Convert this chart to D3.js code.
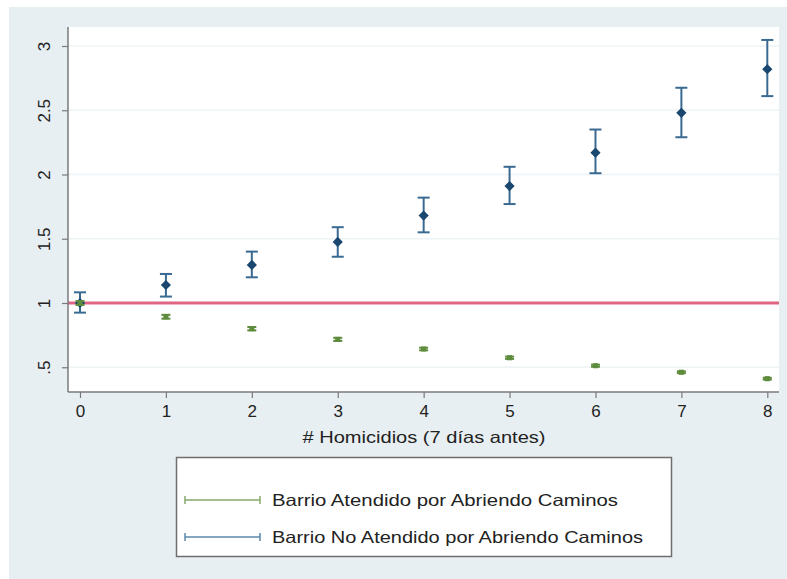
<!DOCTYPE html>
<html>
<head>
<meta charset="utf-8">
<script src="https://cdn.jsdelivr.net/npm/d3@7"></script>
<style>
  html, body { margin: 0; padding: 0; background: #ffffff; }
  svg { display: block; font-family: "Liberation Sans", Arial, Helvetica, sans-serif; }
</style>
</head>
<body>
<svg id="chart" width="787" height="579"></svg>
<script>
// Homicides in the previous 7 days (x) vs. predicted ratio with 95% CI
const homicides = [0, 1, 2, 3, 4, 5, 6, 7, 8];

// Barrio Atendido por Abriendo Caminos
const atendidoPoint = [1.00, 0.893, 0.800, 0.717, 0.642, 0.574, 0.512, 0.461, 0.411];
const atendidoLow   = [0.985, 0.878, 0.787, 0.705, 0.632, 0.565, 0.504, 0.454, 0.404];
const atendidoHigh  = [1.015, 0.908, 0.813, 0.729, 0.652, 0.583, 0.520, 0.468, 0.418];

// Barrio No Atendido por Abriendo Caminos
const noAtendidoPoint = [1.00, 1.14, 1.296, 1.475, 1.68, 1.91, 2.17, 2.48, 2.82];
const noAtendidoLow   = [0.925, 1.05, 1.20, 1.36, 1.55, 1.77, 2.01, 2.29, 2.61];
const noAtendidoHigh  = [1.083, 1.226, 1.40, 1.59, 1.82, 2.06, 2.35, 2.675, 3.047];

const yTicks = [0.5, 1, 1.5, 2, 2.5, 3];
const yTickLabels = [".5", "1", "1.5", "2", "2.5", "3"];
const referenceLine = 1;

const xTitle = "# Homicidios (7 días antes)";
const legendLabels = ["Barrio Atendido por Abriendo Caminos", "Barrio No Atendido por Abriendo Caminos"];

const colors = {
  bg: "#e8eff2",
  grid: "#eef3f5",
  axis: "#7a7a7a",
  ref: "#e06483",
  green: "#5d8c3c",
  greenLegend: "#86a86b",
  navy: "#1a476f",
  navyCap: "#3a6a92",
  navyLegend: "#5b88ad"
};

const svg = d3.select("#chart");

// outer panel
svg.append("rect").attr("x", 9).attr("y", 7).attr("width", 778).attr("height", 572).attr("fill", colors.bg);

const plot = { left: 68, right: 779, top: 27, bottom: 392 };

svg.append("rect")
  .attr("x", plot.left).attr("y", plot.top)
  .attr("width", plot.right - plot.left).attr("height", plot.bottom - plot.top)
  .attr("fill", "#ffffff");

const x = d3.scaleLinear().domain([0, 8]).range([80, 767.3]);
const y = d3.scaleLinear().domain([1, 3]).range([303, 46]);

// horizontal gridlines
svg.append("g").selectAll("line").data(yTicks).join("line")
  .attr("x1", plot.left).attr("x2", plot.right)
  .attr("y1", d => y(d)).attr("y2", d => y(d))
  .attr("stroke", colors.grid).attr("stroke-width", 1.5);

// reference line at 1
svg.append("line")
  .attr("x1", plot.left).attr("x2", plot.right)
  .attr("y1", y(referenceLine)).attr("y2", y(referenceLine))
  .attr("stroke", colors.ref).attr("stroke-width", 3);

// y axis, labels rotated to read upward
const yAxis = d3.axisLeft(y).tickValues(yTicks)
  .tickFormat((d, i) => yTickLabels[i]).tickSize(6).tickPadding(6);
const gy = svg.append("g").attr("transform", `translate(${plot.left},0)`).call(yAxis);
gy.select(".domain").remove();
gy.append("line").attr("x1", 0).attr("x2", 0).attr("y1", plot.top).attr("y2", plot.bottom)
  .attr("stroke", colors.axis).attr("stroke-width", 1.5);
gy.selectAll(".tick line").attr("stroke", colors.axis).attr("stroke-width", 1.2);
gy.selectAll(".tick text")
  .attr("fill", "#222").attr("font-size", 17)
  .attr("text-anchor", "middle")
  .attr("transform", "rotate(-90)")
  .attr("x", 0).attr("y", -18).attr("dy", "0");

// x axis
const xAxis = d3.axisBottom(x).tickValues(homicides).tickFormat(d3.format("d")).tickSize(6).tickPadding(7);
const gx = svg.append("g").attr("transform", `translate(0,${plot.bottom})`).call(xAxis);
gx.select(".domain").remove();
gx.append("line").attr("x1", plot.left).attr("x2", plot.right).attr("y1", 0).attr("y2", 0)
  .attr("stroke", colors.axis).attr("stroke-width", 1.5);
gx.selectAll(".tick line").attr("stroke", colors.axis).attr("stroke-width", 1.2);
gx.selectAll(".tick text").attr("fill", "#222").attr("font-size", 17);

svg.append("text")
  .attr("x", 424).attr("y", 443)
  .attr("text-anchor", "middle").attr("font-size", 16.5).attr("fill", "#222")
  .attr("textLength", 243).attr("lengthAdjust", "spacingAndGlyphs")
  .text(xTitle);

// error bars with caps and a point marker
function drawSeries(points, lows, highs, barColor, dotColor, capHalf, dotSize, rotate) {
  const g = svg.append("g");
  const data = homicides.map((h, i) => ({ h, p: points[i], lo: lows[i], hi: highs[i] }));
  g.selectAll("line.bar").data(data).join("line").attr("class", "bar")
    .attr("x1", d => x(d.h)).attr("x2", d => x(d.h))
    .attr("y1", d => y(d.lo)).attr("y2", d => y(d.hi))
    .attr("stroke", barColor).attr("stroke-width", 2);
  ["lo", "hi"].forEach(k => {
    g.selectAll("line.cap" + k).data(data).join("line").attr("class", "cap" + k)
      .attr("x1", d => x(d.h) - capHalf).attr("x2", d => x(d.h) + capHalf)
      .attr("y1", d => y(d[k])).attr("y2", d => y(d[k]))
      .attr("stroke", barColor).attr("stroke-width", 2);
  });
  const sym = d3.symbol().type(d3.symbolSquare).size(dotSize);
  g.selectAll("path.dot").data(data).join("path").attr("class", "dot")
    .attr("transform", d => `translate(${x(d.h)},${y(d.p)}) rotate(${rotate})`)
    .attr("d", sym)
    .attr("fill", dotColor);
}

drawSeries(noAtendidoPoint, noAtendidoLow, noAtendidoHigh, colors.navyCap, colors.navy, 6, 52, 45);
drawSeries(atendidoPoint, atendidoLow, atendidoHigh, colors.green, colors.green, 4.5, 26, 0);

// legend
const legend = svg.append("g");
legend.append("rect")
  .attr("x", 176.5).attr("y", 457.5).attr("width", 495).attr("height", 99)
  .attr("fill", "#ffffff").attr("stroke", "#6e6e6e").attr("stroke-width", 1.5);
const legendColors = [colors.greenLegend, colors.navyLegend];
const legendYs = [500, 537];
const legendWidths = [346, 371];
legendLabels.forEach((lab, i) => {
  const ly = legendYs[i];
  legend.append("line").attr("x1", 185).attr("x2", 260).attr("y1", ly).attr("y2", ly)
    .attr("stroke", legendColors[i]).attr("stroke-width", 1.5);
  [185, 260].forEach(cx => legend.append("line")
    .attr("x1", cx).attr("x2", cx).attr("y1", ly - 4).attr("y2", ly + 4)
    .attr("stroke", legendColors[i]).attr("stroke-width", 1.5));
  legend.append("text").attr("x", 272).attr("y", ly + 6)
    .attr("font-size", 16.5).attr("fill", "#222")
    .attr("textLength", legendWidths[i]).attr("lengthAdjust", "spacingAndGlyphs")
    .text(lab);
});
</script>
</body>
</html>
